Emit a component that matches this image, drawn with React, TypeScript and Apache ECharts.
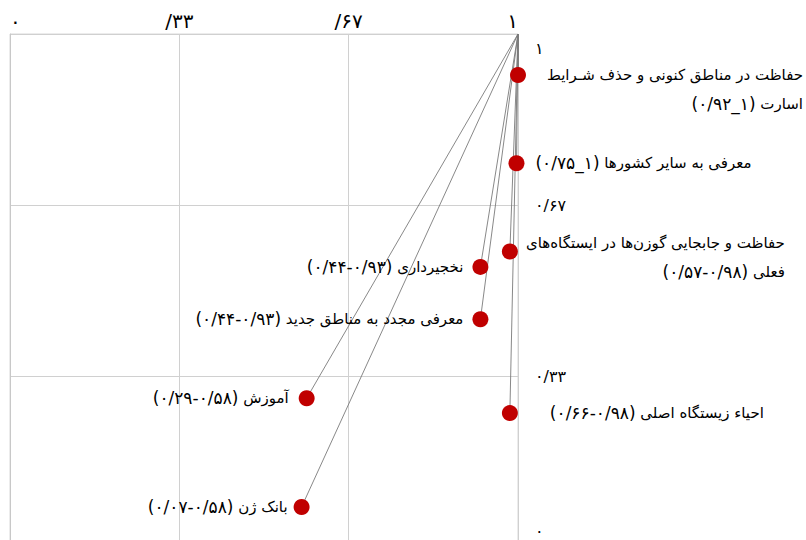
import React, { useEffect, useRef } from "react";
import * as echarts from "echarts";

// Point names (as written on the chart)
const categories = [
  "حفاظت در مناطق کنونی و حذف شـرایط\nاسارت",
  "معرفی به سایر کشورها",
  "حفاظت و جابجایی گوزن‌ها در ایستگاه‌های\nفعلی",
  "نخجیرداری",
  "معرفی مجدد به مناطق جدید",
  "آموزش",
  "بانک ژن",
  "احیاء زیستگاه اصلی",
];
// Value tags printed after each name
const valueTags = [
  "(۱_۰/۹۲)",
  "(۱_۰/۷۵)",
  "(۰/۹۸-۰/۵۷)",
  "(۰/۹۳-۰/۴۴)",
  "(۰/۹۳-۰/۴۴)",
  "(۰/۵۸-۰/۲۹)",
  "(۰/۵۸-۰/۰۷)",
  "(۰/۹۸-۰/۶۶)",
];
// Point positions
const xValues = [1, 0.997, 0.984, 0.926, 0.926, 0.584, 0.574, 0.984];
const yValues = [0.92, 0.748, 0.576, 0.546, 0.444, 0.29, 0.078, 0.261];
// Common start point of all connecting lines
const originPoint = [1, 1];
// Axis tick labels
const xTickLabels = ["۰", "/۳۳", "/۶۷", "۱"];
const yTickLabels = ["۰", "۰/۳۳", "۰/۶۷", "۱"];

// label placement styles (not data)
const labelPlacement: any[] = [
  { position: "inside", align: "right", offset: [285, 14] },
  { position: "right", distance: 11 },
  { position: "inside", align: "right", offset: [275, 6] },
  { position: "left", distance: 9 },
  { position: "left", distance: 9 },
  { position: "left", distance: 10 },
  { position: "left", distance: 6 },
  { position: "right", distance: 32 },
];

const FONT = "DejaVu Sans";
const ALM = "\u061C";
const rtl = (s: string) => ALM + s + ALM;

const buildLabel = (name: string, tag: string) => {
  const lines = name.split("\n");
  const last = lines.pop() as string;
  const out = lines.map((l) => `{t|${rtl(l)}}`);
  out.push(`{n|${rtl(tag)}}{t| }{t|${rtl(last)}}`);
  return out.join("\n");
};

export default function App() {
  const ref = useRef<HTMLDivElement>(null);
  useEffect(() => {
    if (!ref.current) return;
    const chart = echarts.init(ref.current, undefined, { renderer: "svg" });
    const tickIdx = (v: number) => Math.round(v * 3);
    chart.setOption({
      animation: false,
      backgroundColor: "#fff",
      textStyle: { fontFamily: FONT },
      grid: {
        left: 10,
        top: 34,
        width: 508,
        height: 513,
        outerBoundsMode: "none",
        containLabel: false,
        show: true,
        borderColor: "#d9d9d9",
        borderWidth: 1,
      },
      xAxis: {
        type: "value",
        position: "top",
        min: 0,
        max: 1,
        interval: 1 / 3,
        axisLine: { show: true, lineStyle: { color: "#c8c8c8" } },
        axisTick: { show: false },
        splitLine: { show: true, lineStyle: { color: "#d0d0d0" } },
        axisLabel: {
          margin: 3,
          fontSize: 20,
          color: "#000",
          fontFamily: FONT,
          alignMinLabel: "left",
          alignMaxLabel: "right",
          formatter: (v: number) => xTickLabels[tickIdx(v)] ?? "",
        },
      },
      yAxis: {
        type: "value",
        position: "right",
        min: 0,
        max: 1,
        interval: 1 / 3,
        axisLine: { show: true, lineStyle: { color: "#c8c8c8" } },
        axisTick: { show: false },
        splitLine: { show: true, lineStyle: { color: "#d0d0d0" } },
        axisLabel: {
          margin: 17,
          fontSize: 16,
          color: "#000",
          fontFamily: FONT,
          padding: [6, 0, 8, 0],
          verticalAlignMaxLabel: "top",
          verticalAlignMinLabel: "bottom",
          formatter: (v: number) => yTickLabels[tickIdx(v)] ?? "",
        },
      },
      series: [
        {
          type: "lines",
          coordinateSystem: "cartesian2d",
          silent: true,
          z: 2,
          lineStyle: { color: "#7a7a7a", width: 0.9, opacity: 1 },
          data: xValues.map((x, i) => ({
            coords: [originPoint, [x, yValues[i]]],
          })),
        },
        {
          type: "scatter",
          z: 3,
          symbol: "circle",
          symbolSize: 16,
          itemStyle: { color: "#C00000", opacity: 1 },
          label: {
            show: true,
            color: "#000",
            fontFamily: FONT,
            lineHeight: 29,
            formatter: (p: any) => buildLabel(p.name, valueTags[p.dataIndex]),
            rich: {
              t: { fontSize: 15, fontFamily: FONT, color: "#000", lineHeight: 29 },
              n: { fontSize: 17, fontFamily: FONT, color: "#000", lineHeight: 29 },
            },
          },
          data: xValues.map((x, i) => ({
            name: categories[i],
            value: [x, yValues[i]],
            label: { verticalAlign: "middle", ...labelPlacement[i] },
          })),
        },
      ],
    });
    return () => chart.dispose();
  }, []);
  return (
    <div
      ref={ref}
      style={{ position: "fixed", left: 0, top: 0, width: 806, height: 540 }}
    />
  );
}
